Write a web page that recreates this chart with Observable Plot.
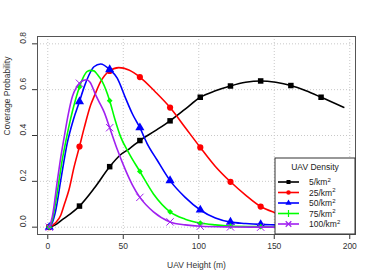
<!DOCTYPE html>
<html>
<head>
<meta charset="utf-8">
<script src="https://cdn.jsdelivr.net/npm/d3@7"></script>
<script src="https://cdn.jsdelivr.net/npm/@observablehq/plot@0.6"></script>
<style>
  html, body { margin: 0; padding: 0; background: #fff; }
</style>
</head>
<body>
<div id="chart"></div>
<script>
// ---- data ----
const densities = [5, 25, 50, 75, 100];
const seriesColors = ["#000000", "#ff0000", "#0000ff", "#00ff00", "#a020f0"];
const seriesSymbols = ["square", "circle", "triangle", "diamond2", "times"];
const legendTitle = "UAV Density";
const xLabel = "UAV Height (m)";
const yLabel = "Coverage Probability";
const xTicks = [0, 50, 100, 150, 200];
const yTicks = [0, 0.2, 0.4, 0.6, 0.8];

// marker positions (every 20 m)
const markerHeights = [1, 21, 41, 61, 81, 101, 121, 141, 161, 181];
const m5   = [0, 0.092, 0.264, 0.378, 0.464, 0.567, 0.616, 0.638, 0.618, 0.567];
const m25  = [0, 0.352, 0.682, 0.655, 0.522, 0.348, 0.198, 0.090, 0.040, 0.017];
const m50  = [0, 0.548, 0.688, 0.434, 0.203, 0.075, 0.022, 0.012, 0.008, 0.006];
const m75  = [0, 0.612, 0.552, 0.243, 0.067, 0.018, 0.005, 0.002, 0.001, 0.001];
const m100 = [0, 0.628, 0.434, 0.130, 0.023, 0.004, 0.001, 0, 0, 0];

// curve points
const c5x = [1,5,9,15,21,31,41,48,54,61,71,81,91,101,111,121,131,141,151,161,171,181,196];
const c5y = [0,0.01,0.03,0.058,0.092,0.172,0.264,0.315,0.342,0.378,0.42,0.464,0.515,0.567,0.595,0.616,0.632,0.638,0.632,0.618,0.595,0.567,0.523];
const c25x = [1,5,8.6,11,14,17.4,21,24,28.4,31,35,40.5,47,53.7,61,71,81,91,101,111,121,131,141,151,161,171,181,196];
const c25y = [0,0.018,0.052,0.1,0.162,0.262,0.352,0.43,0.533,0.575,0.635,0.68,0.696,0.686,0.655,0.592,0.522,0.435,0.348,0.265,0.198,0.14,0.09,0.062,0.04,0.026,0.017,0.009];
const c50x = [1,3,5.3,8.6,13,17,21,24,27.3,30.6,35,41,46,51.5,56,61,65.8,72.4,81,91,101,111,121,131,141,151,161,171,181,196];
const c50y = [0,0.02,0.074,0.205,0.37,0.47,0.548,0.61,0.664,0.70,0.712,0.688,0.65,0.563,0.495,0.434,0.365,0.293,0.203,0.13,0.075,0.04,0.022,0.016,0.012,0.01,0.008,0.007,0.006,0.005];
const c75x = [1,3,5,7.5,9.5,11.8,14,16.5,21,24,26.2,28.5,30.6,33,36.1,41,44.5,48.2,54,61,70,81,91,101,111,121,141,161,181,196];
const c75y = [0,0.03,0.1,0.205,0.29,0.37,0.44,0.51,0.612,0.66,0.68,0.684,0.682,0.665,0.635,0.552,0.47,0.395,0.32,0.243,0.145,0.067,0.035,0.018,0.01,0.005,0.002,0.001,0.001,0.001];
const c100x = [1,3,6.4,8.5,10.8,13.5,16.3,19,21,23.5,25.8,28,31.7,34.5,37.2,41,46,51.5,56,61,70,81,91,101,121,141,161,196];
const c100y = [0,0.045,0.205,0.3,0.39,0.49,0.57,0.61,0.628,0.64,0.643,0.632,0.577,0.54,0.504,0.434,0.34,0.249,0.185,0.13,0.067,0.023,0.01,0.004,0.001,0,0,0];

const markerSets = [m5, m25, m50, m75, m100];
const curveSets = [[c5x,c5y],[c25x,c25y],[c50x,c50y],[c75x,c75y],[c100x,c100y]];

// ---- build tables ----
const seriesMarks = [];
densities.forEach((d, i) => {
  const [cx, cy] = curveSets[i];
  const lineData = cx.map((h, j) => ({h, p: cy[j]}));
  const dotData = markerHeights.map((h, j) => ({h, p: markerSets[i][j]}));
  seriesMarks.push(Plot.line(lineData, {x: "h", y: "p", stroke: seriesColors[i], strokeWidth: 1.6, curve: "monotone-x"}));
  const sym = seriesSymbols[i];
  if (sym === "times") {
    seriesMarks.push(Plot.dot(dotData, {x: "h", y: "p", symbol: sym, stroke: seriesColors[i], strokeWidth: 1, r: 3.4}));
  } else {
    seriesMarks.push(Plot.dot(dotData, {x: "h", y: "p", symbol: sym, fill: seriesColors[i], stroke: "none",
      r: sym === "diamond2" ? 2.6 : sym === "triangle" ? 3.4 : 3.1}));
  }
});

const fontFam = "'Liberation Sans', Arial, Helvetica, sans-serif";

const plot = Plot.plot({
  width: 374,
  height: 280,
  marginLeft: 37,
  marginRight: 19,
  marginTop: 36,
  marginBottom: 46,
  x: {domain: [-6.8, 203.8]},
  y: {domain: [-0.032, 0.832]},
  style: {fontFamily: fontFam, fontSize: "8.5px", color: "#333", background: "#fff"},
  marks: [
    Plot.gridX({ticks: xTicks, stroke: "#c8c8c8", strokeOpacity: 1, strokeDasharray: "1,2"}),
    Plot.gridY({ticks: yTicks, stroke: "#c8c8c8", strokeOpacity: 1, strokeDasharray: "1,2"}),
    Plot.axisX({ticks: xTicks, tickSize: 5, tickPadding: 3, label: null, fontSize: 8.5}),
    Plot.axisY({ticks: yTicks, tickSize: 5, tickFormat: () => "", label: null}),
    Plot.text(yTicks, {y: d => d, text: d => d3.format(".1f")(d), frameAnchor: "left", dx: -14, rotate: -90, fontSize: 8.5, fill: "#333"}),
    Plot.text([xLabel], {text: d => d, frameAnchor: "bottom", dy: 33, fontSize: 8.5, fill: "#333"}),
    Plot.text([yLabel], {text: d => d, frameAnchor: "left", dx: -30, rotate: -90, fontSize: 8.5, fill: "#333"}),
    ...seriesMarks,
    Plot.frame({stroke: "#555", strokeWidth: 1})
  ]
});
document.getElementById("chart").appendChild(plot);

// ---- legend (inside SVG, bottom-right of frame) ----
const svg = d3.select(plot);
const lx = 275, ly = 158, lw = 80, lh = 76;
const g = svg.append("g").attr("font-family", fontFam).attr("font-size", 8.5).attr("fill", "#222");
g.append("rect").attr("x", lx).attr("y", ly).attr("width", lw).attr("height", lh)
  .attr("fill", "#fff").attr("stroke", "#333").attr("stroke-width", 1);
g.append("text").attr("x", lx + lw / 2).attr("y", ly + 12).attr("text-anchor", "middle").text(legendTitle);
const symMap = {square: d3.symbolSquare, circle: d3.symbolCircle, triangle: d3.symbolTriangle, diamond2: d3.symbolPlus, times: d3.symbolTimes};
densities.forEach((d, i) => {
  const yy = ly + 24 + i * 10.5;
  g.append("line").attr("x1", lx + 3).attr("x2", lx + 24).attr("y1", yy).attr("y2", yy)
    .attr("stroke", seriesColors[i]).attr("stroke-width", 1.6);
  const sym = seriesSymbols[i];
  const path = d3.symbol(symMap[sym], sym === "times" ? 22 : sym === "diamond2" ? 18 : 16)();
  const p = g.append("path").attr("d", path).attr("transform", `translate(${lx + 13.5},${yy})`);
  if (sym === "times" || sym === "diamond2") p.attr("fill", "none").attr("stroke", seriesColors[i]).attr("stroke-width", 1.2);
  else p.attr("fill", seriesColors[i]);
  const t = g.append("text").attr("x", lx + 34).attr("y", yy + 3).attr("text-anchor", "start");
  t.append("tspan").text(d + "/km");
  t.append("tspan").attr("dy", -3.5).attr("font-size", 6).text("2");
});
</script>
</body>
</html>
